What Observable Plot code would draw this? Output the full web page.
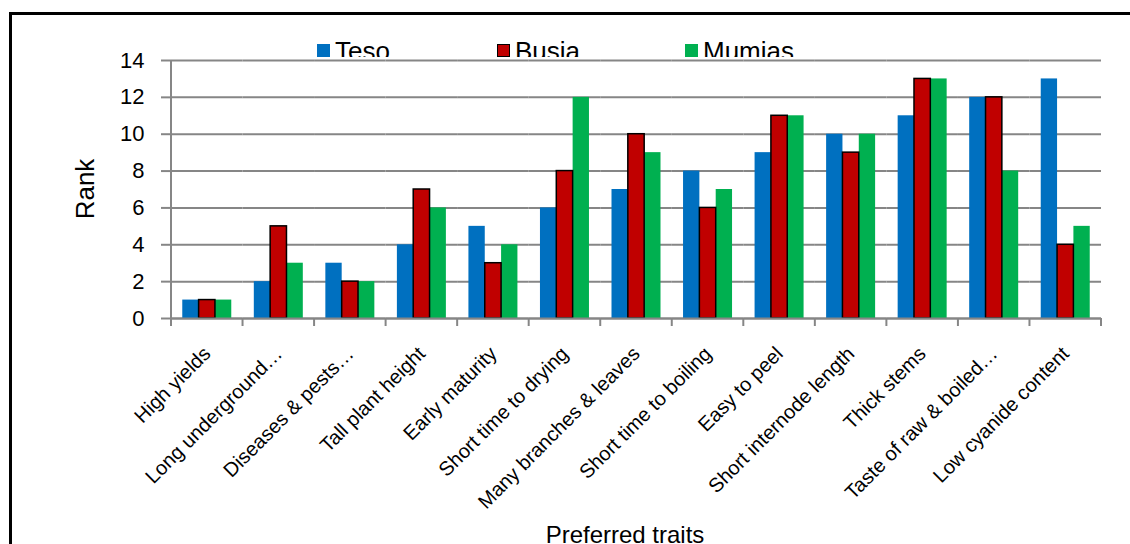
<!DOCTYPE html>
<html><head><meta charset="utf-8">
<script src="https://cdn.jsdelivr.net/npm/d3@7"></script>
<script src="https://cdn.jsdelivr.net/npm/@observablehq/plot@0.6"></script>
<style>
html,body{margin:0;padding:0;background:#fff;overflow:hidden;}
#wrap{position:relative;width:1130px;height:544px;overflow:hidden;font-family:"Liberation Sans",Arial,sans-serif;color:#000;}
#chart svg{position:absolute;left:0;top:0;}
#border{position:absolute;left:9px;top:12px;width:1400px;height:800px;border:3px solid #000;box-sizing:border-box;}
#legend{position:absolute;left:0;top:38px;width:1130px;height:19px;overflow:hidden;}
.li{position:absolute;top:0;display:flex;align-items:flex-start;font-size:26px;line-height:26px;white-space:nowrap;}
.sw{width:13px;height:13px;margin-right:5px;margin-top:6px;box-sizing:border-box;}
.ttl{position:absolute;font-size:24px;line-height:24px;white-space:nowrap;}
#ytitle{left:85px;top:189px;font-size:26px;line-height:26px;transform:translate(-50%,-50%) rotate(-90deg);}
#xtitle{left:625px;top:523px;transform:translateX(-50%);}
</style></head>
<body><div id="wrap"><div id="chart"></div><div id="border"></div><div id="legend"></div>
<div class="ttl" id="ytitle">Rank</div><div class="ttl" id="xtitle">Preferred traits</div></div>
<script>
const traits = ["High yields","Long underground…","Diseases & pests…","Tall plant height","Early maturity","Short time to drying","Many branches & leaves","Short time to boiling","Easy to peel","Short internode length","Thick stems","Taste of raw & boiled…","Low cyanide content"];
const teso   = [1,2,3,4,5,6,7,8,9,10,11,12,13];
const busia  = [1,5,2,7,3,8,10,6,11,9,13,12,4];
const mumias = [1,3,2,6,4,12,9,7,11,10,13,8,5];
const regions = ["Teso","Busia","Mumias"];
const colors = ["#0070C0","#C00000","#00B050"];
const yTicks = [0,2,4,6,8,10,12,14];

const series = [teso, busia, mumias];
const rows = [];
traits.forEach((t,i) => regions.forEach((r,j) => rows.push({trait:t, region:r, rank:series[j][i]})));

const W = 1130, H = 544;
const chart = Plot.plot({
  width: W, height: H,
  marginLeft: 171, marginRight: 29, marginTop: 60, marginBottom: 226,
  style: {fontFamily: '"Liberation Sans", Arial, sans-serif', background: "transparent", color: "#000", overflow: "visible"},
  fx: {domain: traits, padding: 0, round: false, label: null},
  x: {domain: regions, paddingInner: 0, paddingOuter: 0.69, round: false, axis: null},
  y: {domain: [0, 14], label: null},
  color: {domain: regions, range: colors},
  marks: [
    Plot.gridY(yTicks, {stroke: "#868686", strokeOpacity: 1, strokeWidth: 2}),
    Plot.barY(rows, {fx: "trait", x: "region", y: "rank", fill: "region"}),
    Plot.barY(rows, {filter: d => d.region === "Busia", fx: "trait", x: "region", y: "rank", fill: "region", stroke: "#000", strokeWidth: 1.5}),
    Plot.ruleY([0], {stroke: "#868686", strokeWidth: 2}),
    Plot.axisY(yTicks, {tickSize: 10, tickPadding: 17, fontSize: 22, stroke: "#868686", strokeWidth: 2, strokeOpacity: 1, label: null}),
    Plot.axisFx({anchor: "bottom", tickRotate: -45, tickSize: 0, tickPadding: 32, fontSize: 20, label: null})
  ]
});
document.getElementById("chart").appendChild(chart);

// axis line & category boundary ticks from the fx / y scales
const fx = chart.scale("fx"), y = chart.scale("y");
const y0 = y.apply(0), yTop = y.apply(14);
const g = d3.select(chart).append("g").attr("stroke", "#868686").attr("stroke-width", 2);
const x0 = fx.apply(traits[0]);
g.append("line").attr("x1", x0).attr("x2", x0).attr("y1", yTop).attr("y2", y0 + 8);
traits.forEach(t => {
  const xs = fx.apply(t) + fx.bandwidth;
  g.append("line").attr("x1", xs).attr("x2", xs).attr("y1", y0).attr("y2", y0 + 8);
});

// legend
const legendX = [317, 497, 685];
const leg = document.getElementById("legend");
regions.forEach((r, i) => {
  const d = document.createElement("div");
  d.className = "li";
  d.style.left = legendX[i] + "px";
  const s = document.createElement("div");
  s.className = "sw";
  s.style.background = colors[i];
  if (r === "Busia") s.style.border = "1.5px solid #000";
  d.appendChild(s);
  const tx = document.createElement("span");
  tx.textContent = r;
  d.appendChild(tx);
  leg.appendChild(d);
});
</script></body></html>
